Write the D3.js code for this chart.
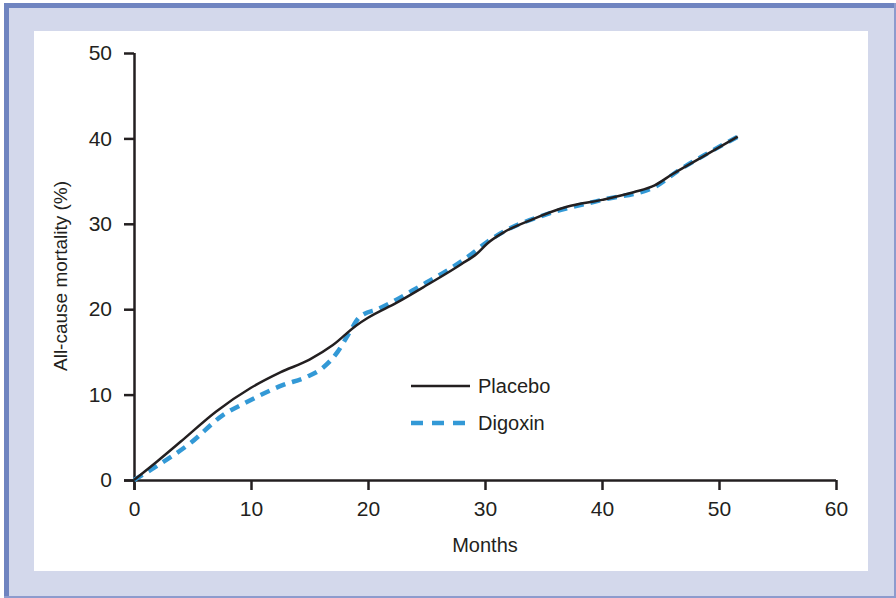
<!DOCTYPE html>
<html lang='en'>
<head>
<meta charset='utf-8'>
<title>All-cause mortality</title>
<script src='https://cdn.jsdelivr.net/npm/d3@7/dist/d3.min.js'></script>
<style>
  body { margin: 0; background: #fff; }
  svg text { font-family: 'Liberation Sans', Arial, sans-serif; fill: #231f20; }
</style>
</head>
<body>
<svg id='svg' width='896' height='598'></svg>
<script>
// data: [month, mortality %]
var placebo = [[0,0],[2,2.2],[4,4.5],[7,8],[10,10.8],[12.5,12.6],[15,14.1],[17,15.8],[19,18.1],[20,19],
  [22.5,20.8],[25,22.8],[28,25.3],[29.3,26.5],[30.2,27.7],[31.6,29],[34,30.5],[37,32],[40,32.8],
  [42.7,33.7],[44.5,34.5],[46,35.8],[48.4,37.7],[51.6,40.2]];
var digoxin = [[0,0],[1.8,1.5],[4.8,4.3],[7.6,7.6],[9.6,9.1],[12.7,11.1],[14.8,12.1],[16.1,13.1],
  [17.4,15],[18.3,17],[19.3,19.1],[21,20.1],[24.2,22.5],[28.7,26.3],[30.2,27.9],[31.9,29.3],[35,31],
  [40,32.8],[44.5,34.3],[46.5,36.2],[48.7,38],[51.6,40.2]];
var xTicks = [0,10,20,30,40,50,60];
var yTicks = [0,10,20,30,40,50];
var seriesNames = ['Placebo','Digoxin'];

var svg = d3.select('#svg');

// frame
svg.append('rect').attr('x',4).attr('y',3).attr('width',892).attr('height',595).attr('fill','#d3d8eb');
svg.append('rect').attr('x',4).attr('y',3).attr('width',5).attr('height',595).attr('fill','#6f84c0');
svg.append('rect').attr('x',4).attr('y',3).attr('width',892).attr('height',5).attr('fill','#6f84c0');
svg.append('rect').attr('x',894).attr('y',3).attr('width',2).attr('height',595).attr('fill','#8d9bcd');
svg.append('rect').attr('x',4).attr('y',596).attr('width',892).attr('height',2).attr('fill','#8d9bcd');
svg.append('rect').attr('x',34).attr('y',31).attr('width',834).attr('height',540).attr('fill','#fff');

var x = d3.scaleLinear().domain([0,60]).range([134,836]);
var y = d3.scaleLinear().domain([0,50]).range([480,53]);

var xAxis = svg.append('g').attr('transform','translate(0,480)')
  .call(d3.axisBottom(x).tickValues(xTicks).tickSizeInner(10).tickSizeOuter(0).tickPadding(11));
var yAxis = svg.append('g').attr('transform','translate(134,0)')
  .call(d3.axisLeft(y).tickValues(yTicks).tickSizeInner(10).tickSizeOuter(0).tickPadding(12));
svg.selectAll('.domain, .tick line').attr('stroke','#231f20').attr('stroke-width',2.5);
svg.selectAll('.tick text').style('font-size','21px').attr('fill','#231f20');
xAxis.select('.domain').attr('d','M124,0.5H836');
yAxis.select('.domain').attr('d','M0.5,53V490');

svg.append('text').attr('x',485).attr('y',552).attr('text-anchor','middle')
  .style('font-size','20px').text('Months');
svg.append('text').attr('transform','translate(67,276) rotate(-90)').attr('text-anchor','middle')
  .style('font-size','19px').text('All-cause mortality (%)');

var line = d3.line().x(d => x(d[0])).y(d => y(d[1])).curve(d3.curveMonotoneX);

svg.append('path').datum(digoxin).attr('d',line).attr('fill','none')
  .attr('stroke','#3399d6').attr('stroke-width',4.5).attr('stroke-dasharray','10,7');
svg.append('path').datum(placebo).attr('d',line).attr('fill','none')
  .attr('stroke','#231f20').attr('stroke-width',2.5);

// legend
var leg = svg.append('g');
leg.append('line').attr('x1',411).attr('x2',470).attr('y1',386).attr('y2',386)
  .attr('stroke','#231f20').attr('stroke-width',2.5);
leg.append('line').attr('x1',411).attr('x2',465).attr('y1',423).attr('y2',423)
  .attr('stroke','#3399d6').attr('stroke-width',4.5).attr('stroke-dasharray','12,9');
leg.selectAll('text.lab').data(seriesNames).enter().append('text')
  .attr('x',478).attr('y',(d,i) => 393 + i*37).style('font-size','20px').text(d => d);
</script>
</body>
</html>
